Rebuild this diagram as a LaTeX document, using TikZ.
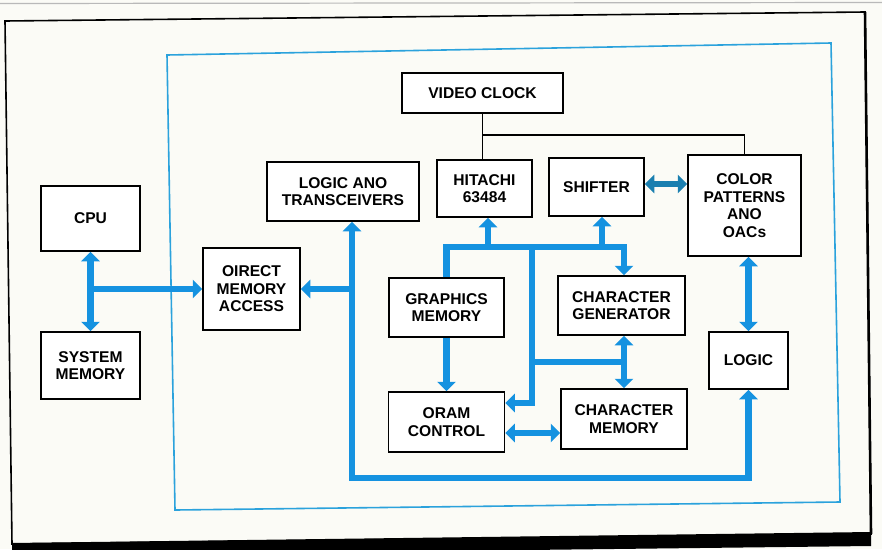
\documentclass[tikz,border=0pt]{standalone}
\usepackage{fontspec}
\newfontfamily\lab{Liberation Sans}
\usetikzlibrary{arrows.meta,calc}
\definecolor{bgc}{HTML}{FBFBF6}
\definecolor{busc}{HTML}{1592E0}
\definecolor{framec}{HTML}{2BA2DC}
\definecolor{darkbus}{HTML}{1A7FB0}
\begin{document}
\begin{tikzpicture}[x=1pt,y=-1pt,
  box/.style={draw=black, line width=1.5pt, fill=white, inner sep=0pt, align=center,
    font=\lab\bfseries\fontsize{15.6}{17.5}\selectfont},
  bus/.style={draw=busc, line width=6.5pt, line join=miter},
  tip/.style={-{Triangle[width=18pt,length=9.5pt]}},
  dtip/.style={{Triangle[width=18pt,length=9.5pt]}-{Triangle[width=18pt,length=9.5pt]}},
  clk/.style={draw=black, line width=1.1pt}]
\useasboundingbox (0,0) rectangle (882,549);
\fill[bgc] (0,0) rectangle (882,549);
\draw[gray!55, line width=1.2pt] (0,3.5) -- (882,2.5);
% outer frame
\draw[black, line width=1.6pt] (5,21) -- (865,12) -- (871,534) -- (12,544) -- cycle;
\draw[black, line width=2.6pt] (865,12) -- (871,534);
\fill[black] (12,543) -- (871,532) -- (871,546) -- (12,556) -- cycle;
% inner frame
\draw[framec, line width=1.6pt] (167,55) -- (831,43) -- (840,502) -- (175,510) -- cycle;
% boxes
\node[box, minimum width=99pt, minimum height=65pt] (cpu) at (90.5,218.5) {CPU};
\node[box, minimum width=99pt, minimum height=67pt] (sys) at (90.5,365.5) {SYSTEM\\MEMORY};
\node[box, minimum width=97pt, minimum height=82pt] (dma) at (251.5,289) {OIRECT\\MEMORY\\ACCESS};
\node[box, minimum width=152pt, minimum height=59pt] (ltr) at (343,191.5) {LOGIC ANO\\TRANSCEIVERS};
\node[box, minimum width=161pt, minimum height=40pt] (vclk) at (482.5,93) {VIDEO CLOCK};
\node[box, minimum width=95pt, minimum height=57pt] (hit) at (484.5,188.5) {HITACHI\\63484};
\node[box, minimum width=95pt, minimum height=58pt] (shf) at (596.5,187) {SHIFTER};
\node[box, minimum width=113pt, minimum height=101pt] (color) at (744.5,205.5) {COLOR\\PATTERNS\\ANO\\OACs};
\node[box, minimum width=115pt, minimum height=59pt] (gm) at (446.5,307.5) {GRAPHICS\\MEMORY};
\node[box, minimum width=127pt, minimum height=59pt] (cg) at (621.5,305.5) {CHARACTER\\GENERATOR};
\node[box, minimum width=116pt, minimum height=60pt] (oram) at (446.5,422) {ORAM\\CONTROL};
\node[box, minimum width=126pt, minimum height=60pt] (cm) at (624,419) {CHARACTER\\MEMORY};
\node[box, minimum width=79pt, minimum height=57pt] (logic) at (748.5,360.5) {LOGIC};
% clock lines
\coordinate (cb) at (482.5,135);
\draw[clk] (vclk.south) -- (vclk.south |- hit.north);
\draw[clk] (cb) -| (color.north);
% CPU / system memory bus
\draw[bus,dtip] (cpu.south) -- (sys.north);
\draw[bus,tip] (cpu.south |- dma.west) -- (dma.west);
% transceiver bus
\coordinate (bl) at (352,478);
\draw[bus,dtip] (bl |- ltr.south) -- (bl) -| (logic.south);
\draw[bus,tip] (bl |- dma.east) -- (dma.east);
% shifter <-> color
\coordinate (sc) at (646,184);
\draw[bus, draw=darkbus, dtip] (sc -| shf.east) -- (sc -| color.west);
% central bus
\coordinate (t1) at (446.5,247);
\coordinate (t2) at (624,247);
\coordinate (th) at (488,247);
\coordinate (ts) at (602,247);
\coordinate (tm) at (532,247);
\coordinate (tmb) at (532,403);
\coordinate (tmc) at (532,362);
\coordinate (cx) at (624,362);
\coordinate (oc) at (505,433);
\draw[bus,tip] (t1 |- gm.north) -- (t1) -- (t2) -- (t2 |- cg.north);
\draw[bus,tip] (th) -- (th |- hit.south);
\draw[bus,tip] (ts) -- (ts |- shf.south);
\draw[bus,tip] (tm) -- (tmb) -- (tmb -| oram.east);
\draw[bus] (tmc) -- (cx);
\draw[bus,dtip] (cx |- cg.south) -- (cx |- cm.north);
\draw[bus,tip] (gm.south) -- (gm.south |- oram.north);
\draw[bus,dtip] (oc -| oram.east) -- (oc -| cm.west);
\draw[bus,dtip] (logic.north |- color.south) -- (logic.north);
\end{tikzpicture}
\end{document}
